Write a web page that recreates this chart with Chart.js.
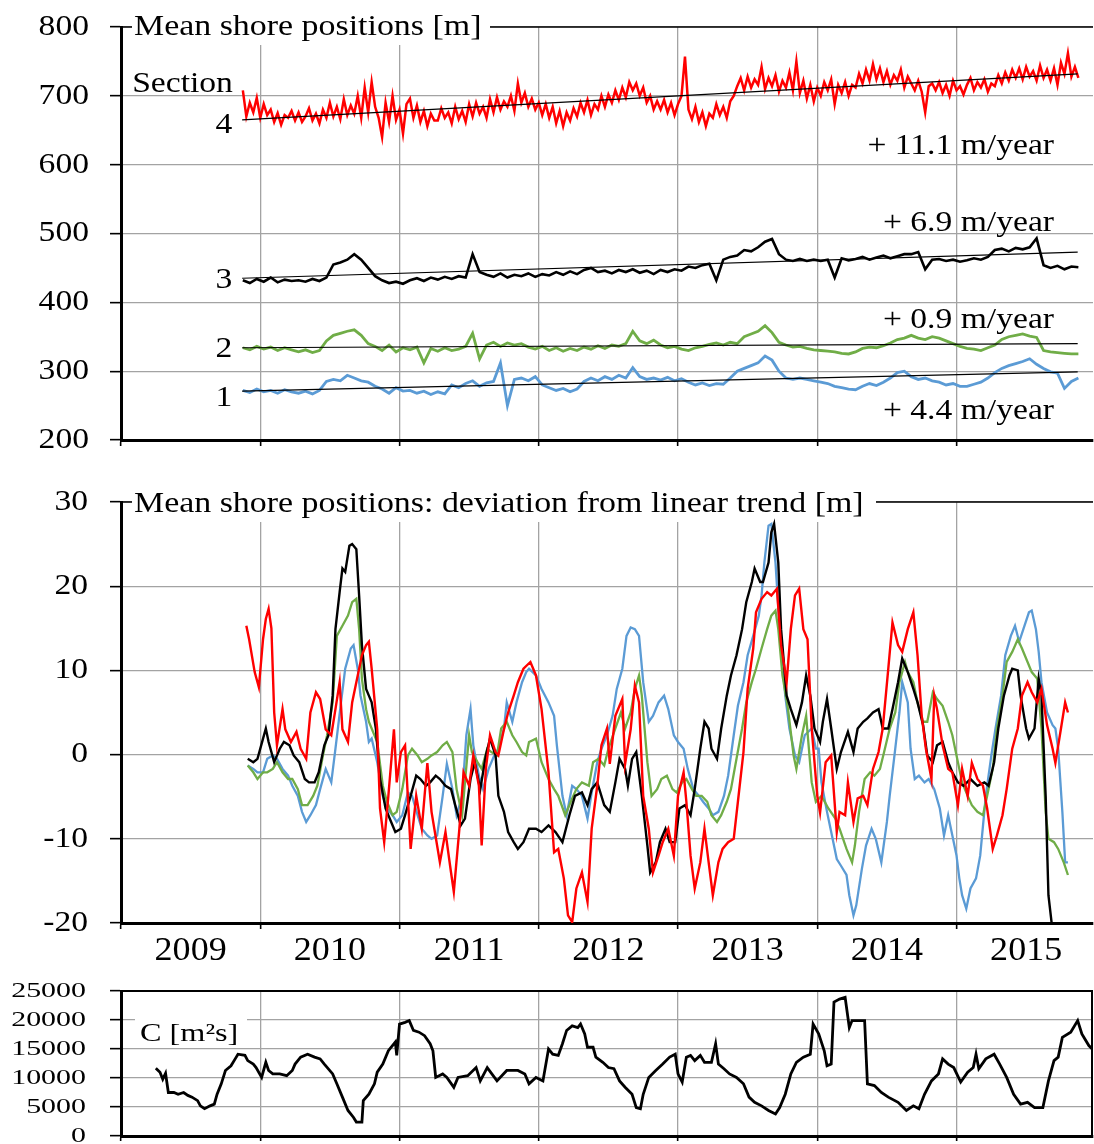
<!DOCTYPE html>
<html>
<head>
<meta charset="utf-8">
<script src="https://cdn.jsdelivr.net/npm/chart.js@4.4.1/dist/chart.umd.min.js"></script>
<style>
  html, body { margin: 0; padding: 0; background: #fff; width: 1094px; height: 1144px; overflow: hidden; }
  canvas { position: absolute; left: 0; }
</style>
</head>
<body>
<canvas id="shore" width="1094" height="470" style="top:0px"></canvas>
<canvas id="deviation" width="1094" height="495" style="top:480px"></canvas>
<canvas id="coeff" width="1094" height="169" style="top:975px"></canvas>
<script>
// shore positions, sampled from 2009.875 (red every 0.025 yr, others every 0.05 yr)
const START = 2009.875;
const RED_STEP = 0.025;
const STEP = 0.05;

const shore4 = [
  708, 670, 690, 676, 697, 668, 688, 672,
  680, 662, 675, 658, 672, 668, 678, 664,
  676, 662, 670, 682, 664, 674, 660, 680,
  668, 690, 670, 684, 666, 695, 672, 686,
  674, 700, 668, 712, 676, 720, 684, 668,
  640, 690, 662, 700, 665, 680, 645, 688,
  696, 668, 686, 662, 678, 656, 674, 664,
  664, 682, 668, 676, 660, 684, 666, 678,
  662, 688, 670, 690, 674, 684, 668, 695,
  676, 698, 680, 692, 684, 700, 678, 718,
  690, 704, 684, 696, 680, 690, 672, 688,
  668, 684, 660, 678, 656, 676, 664, 682,
  670, 690, 676, 694, 672, 688, 680, 700,
  684, 702, 690, 708, 694, 712, 698, 720,
  708, 718, 700, 712, 690, 700, 680, 692,
  680, 694, 676, 690, 672, 688, 700, 757,
  680, 666, 684, 662, 676, 656, 674, 668,
  688, 672, 684, 668, 692, 700, 714, 726,
  708, 728, 712, 724, 716, 742, 710, 726,
  714, 730, 706, 722, 712, 734, 708, 750,
  704, 722, 696, 716, 692, 712, 700, 720,
  708, 724, 688, 716, 704, 720, 700, 716,
  712, 732, 718, 738, 722, 746, 724, 740,
  720, 736, 716, 730, 722, 738, 712, 728,
  718, 708, 722, 706, 676, 714, 718, 708,
  720, 704, 716, 700, 722, 708, 714, 702,
  716, 726, 708, 720, 712, 724, 706, 718,
  714, 730, 718, 734, 722, 738, 726, 740,
  724, 742, 728, 736, 722, 744, 726, 738,
  722, 740, 716, 748, 732, 762, 728, 742,
  726
];
const shore3 = [
  432, 428, 434, 430, 436, 429, 433, 431,
  432, 430, 434, 431, 436, 455, 458, 462,
  470, 462, 450, 438, 432, 428, 430, 427,
  432, 435, 431, 436, 433, 437, 434, 438,
  436, 470, 444, 440, 437, 442, 436, 440,
  438, 442, 437, 441, 439, 444, 440, 445,
  441, 447, 450, 444, 446, 442, 447, 444,
  448, 443, 446, 441, 447, 444, 448, 446,
  452, 450, 454, 456, 432, 462, 466, 468,
  476, 474, 480, 488, 492, 470, 462, 460,
  463, 460, 462, 460, 462, 436, 464, 461,
  463, 466, 462, 465, 468, 464, 467, 470,
  470, 473, 448, 462, 463, 460, 462, 459,
  461, 464, 462, 466, 476, 478, 474, 479,
  477, 480, 493, 454, 450, 453, 448, 452,
  451
];
const shore2 = [
  334, 331, 336, 332, 335, 330, 334, 331,
  328, 331, 327, 330, 344, 352, 355, 358,
  360, 352, 340, 336, 330, 338, 328, 334,
  331, 335, 312, 333, 329, 334, 330, 332,
  336, 355, 318, 338, 342, 336, 341, 338,
  340, 335, 332, 336, 330, 334, 329, 333,
  330, 335, 332, 337, 333, 338, 336, 340,
  358, 344, 340, 345, 338, 334, 336, 332,
  330, 334, 336, 339, 341, 338, 342, 340,
  350, 354, 358, 366, 356, 342, 338, 335,
  336, 333, 331, 330, 329, 328, 326, 325,
  328, 333, 335, 334, 337, 341, 346, 348,
  352, 348, 346, 350, 348, 344, 340, 336,
  333, 332, 330, 334, 338, 346, 350, 352,
  354, 351, 349, 330, 328, 327, 326, 325,
  325
];
const shore1 = [
  272, 269, 274, 270, 272, 268, 273, 270,
  268, 271, 267, 272, 285, 288, 286, 294,
  290, 286, 284, 278, 274, 268, 276, 271,
  272, 268, 271, 266, 270, 267, 280, 276,
  282, 286, 278, 283, 285, 312, 250, 288,
  290, 286, 292, 280, 276, 272, 275, 270,
  274, 285, 290, 286, 292, 288, 294, 290,
  305, 292, 288, 290, 287, 291, 286, 289,
  284, 280, 283, 279, 282, 281, 290, 300,
  304, 308, 312, 322, 316, 300, 290, 288,
  290, 288, 286, 284, 282, 278, 276, 274,
  273, 278, 282, 279, 284, 290, 298, 300,
  292, 288, 290, 286, 284, 280, 282, 278,
  278, 281, 284, 290, 298, 304, 308, 311,
  314, 318, 310, 304, 299, 297, 275, 285,
  290
];

// linear trends [year, m]
const trend4 = [[2009.87, 665], [2015.87, 732]];
const trend3 = [[2009.87, 435], [2015.87, 473]];
const trend2 = [[2009.87, 334], [2015.87, 340]];
const trend1 = [[2009.87, 271], [2015.87, 299]];

// deviation from linear trend [year, m]
const dev4 = [
  [2009.90,15.3],[2009.92,13.7],[2009.96,9.8],[2009.99,8.0],[2010.02,13.7],[2010.04,16.1],[2010.06,17.3],[2010.08,15.0],
  [2010.10,5.0],[2010.12,1.1],[2010.16,5.4],[2010.18,3.0],[2010.22,1.5],[2010.26,2.7],[2010.29,0.7],[2010.33,-0.5],
  [2010.36,5.0],[2010.40,7.4],[2010.43,6.6],[2010.47,3.0],[2010.51,2.3],[2010.54,5.4],[2010.57,8.6],[2010.59,3.0],
  [2010.63,1.5],[2010.66,6.2],[2010.70,9.4],[2010.73,11.8],[2010.76,13.0],[2010.78,13.4],[2010.80,10.2],[2010.84,3.0],
  [2010.86,-6.4],[2010.89,-10.4],[2010.92,-4.9],[2010.96,3.0],[2010.98,-3.3],[2011.01,0.3],[2011.04,1.1],[2011.08,-11.2],
  [2011.12,-4.9],[2011.16,-8.8],[2011.20,-1.0],[2011.23,-6.8],[2011.27,-10.8],[2011.29,-12.8],[2011.33,-9.2],[2011.37,-14.0],
  [2011.39,-16.3],[2011.43,-8.8],[2011.46,-2.1],[2011.50,-3.7],[2011.53,-0.1],[2011.57,-3.7],[2011.59,-10.8],[2011.62,-1.7],
  [2011.65,2.3],[2011.69,0.3],[2011.71,-0.1],[2011.75,3.0],[2011.78,5.0],[2011.82,7.0],[2011.85,8.6],[2011.89,10.2],
  [2011.94,11.0],[2011.98,9.4],[2012.02,5.4],[2012.07,-2.1],[2012.11,-11.6],[2012.14,-11.2],[2012.18,-14.7],[2012.21,-19.1],
  [2012.24,-19.9],[2012.27,-15.9],[2012.31,-14.0],[2012.35,-17.5],[2012.38,-8.8],[2012.42,-3.7],[2012.45,1.1],[2012.49,3.1],
  [2012.51,-1.1],[2012.55,4.6],[2012.60,6.6],[2012.62,-1.1],[2012.66,3.0],[2012.69,8.2],[2012.72,6.2],[2012.75,-4.9],
  [2012.79,-8.8],[2012.82,-14.0],[2012.86,-12.0],[2012.89,-10.4],[2012.93,-8.8],[2012.97,-12.0],[2013.00,-4.9],[2013.04,-2.1],
  [2013.06,-5.6],[2013.09,-12.0],[2013.12,-15.9],[2013.16,-12.8],[2013.19,-8.8],[2013.22,-12.8],[2013.25,-16.7],[2013.29,-12.8],
  [2013.32,-11.2],[2013.36,-10.4],[2013.40,-10.0],[2013.43,-5.6],[2013.47,0.3],[2013.50,7.8],[2013.54,12.6],[2013.56,16.9],
  [2013.60,18.5],[2013.64,19.3],[2013.67,18.9],[2013.71,19.7],[2013.74,13.0],[2013.78,8.6],[2013.81,14.9],[2013.84,18.9],
  [2013.87,19.7],[2013.90,14.9],[2013.93,13.7],[2013.96,3.1],[2014.00,-4.9],[2014.02,-6.9],[2014.06,-0.9],[2014.10,-0.1],
  [2014.14,-9.2],[2014.16,-6.8],[2014.20,-7.2],[2014.22,-3.3],[2014.26,-8.0],[2014.29,-5.2],[2014.33,-4.9],[2014.36,-6.0],
  [2014.40,-1.7],[2014.44,0.3],[2014.47,3.1],[2014.51,10.2],[2014.54,15.7],[2014.58,13.0],[2014.61,12.2],[2014.65,14.9],
  [2014.69,16.9],[2014.72,11.8],[2014.75,4.6],[2014.78,0.7],[2014.82,-2.9],[2014.84,7.0],[2014.86,5.4],[2014.90,1.1],
  [2014.94,-1.7],[2014.97,-2.1],[2015.01,-6.0],[2015.04,-1.7],[2015.08,-4.9],[2015.11,-1.0],[2015.15,-2.9],[2015.19,-3.7],
  [2015.22,-6.4],[2015.26,-11.2],[2015.29,-9.6],[2015.33,-7.2],[2015.36,-4.1],[2015.40,0.7],[2015.44,3.1],[2015.47,7.0],
  [2015.51,8.6],[2015.54,7.4],[2015.58,6.2],[2015.61,7.8],[2015.65,3.5],[2015.69,0.7],[2015.71,-1.0],[2015.75,3.1],
  [2015.78,6.2],[2015.80,5.0]
];
const dev3 = [
  [2009.91,-0.5],[2009.95,-0.9],[2009.98,-0.5],[2010.02,1.9],[2010.04,3.1],[2010.06,1.5],[2010.10,-0.9],[2010.14,0.7],
  [2010.17,1.5],[2010.21,1.1],[2010.24,-0.1],[2010.28,-0.9],[2010.32,-2.9],[2010.35,-3.3],[2010.39,-3.3],[2010.42,-2.1],
  [2010.46,1.1],[2010.49,2.3],[2010.52,7.0],[2010.54,14.9],[2010.57,19.3],[2010.59,22.1],[2010.61,21.7],[2010.64,24.8],
  [2010.66,25.0],[2010.69,24.4],[2010.71,18.9],[2010.73,13.0],[2010.76,7.8],[2010.78,7.0],[2010.80,6.2],[2010.83,3.1],
  [2010.86,-2.9],[2010.90,-6.4],[2010.94,-8.0],[2010.97,-9.2],[2011.01,-8.8],[2011.04,-7.2],[2011.08,-4.9],[2011.12,-2.5],
  [2011.15,-2.9],[2011.19,-3.7],[2011.22,-3.3],[2011.26,-2.5],[2011.29,-2.9],[2011.33,-3.7],[2011.37,-4.1],[2011.40,-6.0],
  [2011.44,-8.4],[2011.47,-7.6],[2011.51,-2.9],[2011.54,-0.9],[2011.58,-4.1],[2011.62,-0.1],[2011.65,1.9],[2011.69,-0.1],
  [2011.71,-4.9],[2011.75,-6.8],[2011.78,-9.2],[2011.82,-10.4],[2011.85,-11.2],[2011.89,-10.4],[2011.93,-8.8],[2011.98,-8.8],
  [2012.02,-9.2],[2012.07,-8.4],[2012.12,-9.2],[2012.17,-10.4],[2012.22,-7.2],[2012.26,-4.9],[2012.31,-4.5],[2012.35,-6.0],
  [2012.38,-4.1],[2012.42,-3.3],[2012.47,-6.0],[2012.51,-6.8],[2012.55,-3.3],[2012.58,-0.5],[2012.62,-1.7],[2012.64,-3.7],
  [2012.67,-0.5],[2012.70,0.3],[2012.74,-4.9],[2012.78,-10.8],[2012.80,-14.0],[2012.84,-12.8],[2012.87,-10.4],[2012.91,-8.8],
  [2012.94,-10.4],[2012.98,-10.4],[2013.01,-6.4],[2013.05,-6.0],[2013.09,-7.2],[2013.12,-4.1],[2013.16,0.7],[2013.19,3.9],
  [2013.22,3.1],[2013.24,0.7],[2013.28,-0.5],[2013.31,3.1],[2013.35,7.0],[2013.38,9.4],[2013.42,11.8],[2013.46,14.9],
  [2013.49,18.1],[2013.53,20.5],[2013.55,22.1],[2013.59,20.5],[2013.61,20.5],[2013.65,22.8],[2013.67,26.4],[2013.69,27.4],
  [2013.72,22.8],[2013.74,14.9],[2013.78,7.0],[2013.81,5.4],[2013.85,3.5],[2013.89,6.2],[2013.92,9.4],[2013.95,7.0],
  [2013.98,3.1],[2014.02,1.5],[2014.04,3.9],[2014.07,6.6],[2014.10,3.1],[2014.14,-1.7],[2014.17,0.3],[2014.22,2.7],
  [2014.26,0.3],[2014.29,3.1],[2014.33,3.9],[2014.36,4.3],[2014.40,5.0],[2014.44,5.4],[2014.47,3.1],[2014.51,3.1],
  [2014.54,5.4],[2014.58,8.6],[2014.61,11.4],[2014.65,9.8],[2014.69,7.8],[2014.72,6.2],[2014.76,3.5],[2014.79,-0.1],
  [2014.83,-0.9],[2014.86,1.1],[2014.90,1.5],[2014.94,-0.9],[2014.97,-2.1],[2015.01,-3.3],[2015.05,-3.7],[2015.10,-2.9],
  [2015.15,-3.7],[2015.20,-3.3],[2015.23,-3.7],[2015.27,-0.9],[2015.30,3.1],[2015.34,7.0],[2015.38,9.4],[2015.40,10.2],
  [2015.44,10.0],[2015.46,7.0],[2015.50,3.1],[2015.52,1.9],[2015.56,3.1],[2015.59,9.0],[2015.61,7.0],[2015.64,-4.9],
  [2015.66,-16.7],[2015.69,-21.0]
];
const dev2 = [
  [2009.91,-1.3],[2009.95,-2.1],[2009.98,-2.9],[2010.02,-2.1],[2010.05,-2.1],[2010.09,-1.7],[2010.12,-0.9],[2010.16,-2.1],
  [2010.20,-2.9],[2010.23,-2.9],[2010.27,-4.1],[2010.30,-6.0],[2010.34,-6.0],[2010.38,-4.9],[2010.41,-3.7],[2010.45,-0.1],
  [2010.48,2.3],[2010.52,6.2],[2010.55,14.1],[2010.59,15.3],[2010.63,16.5],[2010.66,18.1],[2010.69,18.5],[2010.71,14.9],
  [2010.73,9.0],[2010.76,5.4],[2010.78,3.9],[2010.80,3.1],[2010.84,1.5],[2010.88,-3.7],[2010.91,-5.6],[2010.95,-7.2],
  [2010.98,-6.8],[2011.02,-4.1],[2011.06,-0.1],[2011.09,0.7],[2011.13,-0.1],[2011.16,-0.9],[2011.20,-0.5],[2011.23,-0.1],
  [2011.27,0.3],[2011.31,1.1],[2011.34,1.5],[2011.38,0.3],[2011.41,-4.1],[2011.45,-7.2],[2011.47,-3.3],[2011.50,2.3],
  [2011.52,0.3],[2011.56,-0.9],[2011.59,-1.7],[2011.63,0.7],[2011.66,0.3],[2011.70,-0.1],[2011.73,3.1],[2011.77,3.9],
  [2011.81,2.3],[2011.84,1.5],[2011.88,0.3],[2011.91,-0.1],[2011.93,1.5],[2011.98,1.9],[2012.02,-0.9],[2012.07,-2.9],
  [2012.11,-4.1],[2012.14,-4.9],[2012.19,-7.2],[2012.24,-5.2],[2012.27,-4.1],[2012.31,-3.3],[2012.36,-3.7],[2012.39,-0.9],
  [2012.43,-0.5],[2012.47,-1.3],[2012.50,0.7],[2012.55,3.1],[2012.59,5.0],[2012.62,3.1],[2012.66,5.0],[2012.69,7.8],
  [2012.72,9.4],[2012.74,7.0],[2012.78,-0.9],[2012.81,-4.9],[2012.85,-4.1],[2012.88,-2.9],[2012.92,-2.5],[2012.96,-4.1],
  [2012.99,-4.5],[2013.03,-3.3],[2013.06,-2.9],[2013.10,-4.1],[2013.13,-4.9],[2013.17,-4.9],[2013.21,-5.6],[2013.24,-7.2],
  [2013.28,-8.0],[2013.31,-7.2],[2013.35,-5.6],[2013.38,-4.1],[2013.42,-0.5],[2013.46,3.1],[2013.49,6.2],[2013.53,8.6],
  [2013.56,10.2],[2013.60,12.6],[2013.64,14.9],[2013.67,16.5],[2013.70,17.1],[2013.72,14.9],[2013.75,9.4],[2013.79,5.4],
  [2013.83,-0.1],[2013.85,-1.7],[2013.89,2.3],[2013.92,4.6],[2013.96,-3.3],[2013.99,-5.6],[2014.03,-4.9],[2014.08,-6.4],
  [2014.13,-7.6],[2014.16,-8.8],[2014.21,-11.2],[2014.25,-12.8],[2014.27,-10.8],[2014.30,-6.8],[2014.34,-2.9],[2014.38,-2.1],
  [2014.41,-2.5],[2014.45,-1.7],[2014.48,0.3],[2014.52,3.1],[2014.56,5.0],[2014.59,8.6],[2014.63,11.0],[2014.65,9.8],
  [2014.69,8.6],[2014.72,6.2],[2014.76,3.9],[2014.79,3.9],[2014.83,7.4],[2014.86,6.6],[2014.90,5.8],[2014.94,3.9],
  [2014.97,2.3],[2015.01,-0.9],[2015.04,-3.3],[2015.08,-4.9],[2015.11,-6.0],[2015.15,-6.8],[2015.19,-7.2],[2015.22,-4.9],
  [2015.26,-1.7],[2015.29,3.1],[2015.33,7.0],[2015.36,11.0],[2015.40,12.2],[2015.44,13.7],[2015.47,12.6],[2015.51,11.0],
  [2015.54,9.8],[2015.58,9.0],[2015.61,3.1],[2015.64,-6.8],[2015.66,-10.0],[2015.70,-10.4],[2015.73,-11.2],[2015.77,-12.8],
  [2015.80,-14.3]
];
const dev1 = [
  [2009.91,-1.3],[2009.95,-1.7],[2009.98,-2.1],[2010.02,-2.1],[2010.05,-0.5],[2010.09,-0.1],[2010.12,-0.5],[2010.16,-1.7],
  [2010.20,-2.5],[2010.23,-3.7],[2010.27,-4.9],[2010.30,-6.8],[2010.33,-8.0],[2010.36,-7.2],[2010.40,-6.0],[2010.43,-4.1],
  [2010.47,-1.7],[2010.51,-3.3],[2010.54,0.7],[2010.58,6.2],[2010.61,10.2],[2010.65,12.6],[2010.67,13.0],[2010.70,10.2],
  [2010.72,7.0],[2010.76,3.9],[2010.78,1.5],[2010.80,1.9],[2010.84,-0.9],[2010.88,-4.9],[2010.91,-6.4],[2010.95,-7.2],
  [2010.98,-8.0],[2011.02,-7.2],[2011.06,-4.5],[2011.09,-4.9],[2011.13,-7.2],[2011.16,-8.8],[2011.20,-9.6],[2011.23,-10.0],
  [2011.27,-9.6],[2011.31,-4.9],[2011.34,-1.1],[2011.38,-4.1],[2011.41,-7.2],[2011.45,-4.9],[2011.48,2.3],[2011.51,5.4],
  [2011.53,1.1],[2011.57,-2.5],[2011.60,-4.1],[2011.64,-1.7],[2011.68,-0.1],[2011.71,0.7],[2011.75,3.1],[2011.77,6.2],
  [2011.81,3.9],[2011.84,6.2],[2011.88,8.6],[2011.91,9.8],[2011.93,10.2],[2011.98,9.4],[2012.02,7.8],[2012.07,6.2],
  [2012.11,4.6],[2012.13,1.1],[2012.17,-4.9],[2012.20,-7.2],[2012.24,-3.7],[2012.27,-4.1],[2012.31,-4.9],[2012.35,-7.6],
  [2012.38,-4.5],[2012.42,-0.9],[2012.45,0.7],[2012.49,2.3],[2012.53,4.6],[2012.56,7.8],[2012.60,10.2],[2012.63,14.1],
  [2012.66,15.1],[2012.69,14.9],[2012.72,14.1],[2012.75,8.6],[2012.79,3.9],[2012.82,4.6],[2012.86,6.2],[2012.90,7.0],
  [2012.93,5.4],[2012.97,2.3],[2013.00,1.5],[2013.04,0.7],[2013.07,-1.7],[2013.11,-4.1],[2013.15,-4.9],[2013.18,-5.6],
  [2013.22,-6.4],[2013.25,-7.2],[2013.29,-6.8],[2013.33,-4.9],[2013.36,-2.5],[2013.40,2.3],[2013.43,5.8],[2013.47,8.6],
  [2013.50,11.8],[2013.54,14.1],[2013.58,16.5],[2013.60,18.9],[2013.62,22.8],[2013.65,27.2],[2013.67,27.4],[2013.70,22.8],
  [2013.73,14.9],[2013.77,7.0],[2013.80,3.1],[2013.84,-0.1],[2013.87,-0.9],[2013.91,2.3],[2013.96,3.1],[2013.99,0.7],
  [2014.01,0.7],[2014.03,-3.3],[2014.07,-6.8],[2014.10,-9.2],[2014.14,-12.4],[2014.17,-13.2],[2014.21,-14.3],[2014.23,-16.7],
  [2014.26,-19.1],[2014.28,-17.9],[2014.32,-13.6],[2014.35,-10.8],[2014.39,-8.8],[2014.42,-10.0],[2014.46,-12.8],[2014.50,-8.0],
  [2014.52,-4.9],[2014.56,0.7],[2014.59,5.0],[2014.61,8.6],[2014.65,6.2],[2014.67,0.7],[2014.70,-2.9],[2014.73,-2.5],
  [2014.77,-3.3],[2014.80,-2.9],[2014.84,-4.1],[2014.88,-6.4],[2014.91,-9.6],[2014.94,-7.2],[2014.96,-8.8],[2015.00,-12.0],
  [2015.02,-14.7],[2015.04,-16.7],[2015.07,-18.3],[2015.10,-15.9],[2015.14,-14.7],[2015.17,-12.0],[2015.21,-4.9],[2015.25,-0.1],
  [2015.28,3.1],[2015.32,7.0],[2015.35,11.8],[2015.39,14.1],[2015.42,15.3],[2015.45,13.4],[2015.48,14.9],[2015.52,16.9],
  [2015.54,17.1],[2015.57,14.9],[2015.59,12.2],[2015.61,8.6],[2015.65,5.0],[2015.69,3.5],[2015.71,3.1],[2015.73,0.7],
  [2015.76,-6.8],[2015.78,-12.8],[2015.80,-12.8]
];

// C [m2s] [year, value]
const coeffC = [
  [2009.25,11700],[2009.28,11000],[2009.30,9800],[2009.32,10800],[2009.34,7500],[2009.38,7500],[2009.41,7200],[2009.45,7500],
  [2009.48,7000],[2009.51,6700],[2009.55,6100],[2009.57,5200],[2009.60,4700],[2009.64,5200],[2009.67,5500],[2009.69,7200],
  [2009.72,9000],[2009.75,11300],[2009.79,12100],[2009.82,13300],[2009.84,14100],[2009.89,13900],[2009.91,13000],[2009.95,12400],
  [2009.97,11800],[2010.01,10100],[2010.04,12700],[2010.06,11300],[2010.09,10700],[2010.14,10700],[2010.19,10400],[2010.23,11300],
  [2010.25,12400],[2010.29,13600],[2010.34,14100],[2010.39,13600],[2010.43,13300],[2010.46,12400],[2010.52,10700],[2010.55,9000],
  [2010.59,6700],[2010.63,4400],[2010.67,3200],[2010.69,2400],[2010.73,2400],[2010.74,6100],[2010.78,7200],[2010.82,9000],
  [2010.84,11000],[2010.88,12400],[2010.92,14700],[2010.97,16200],[2010.98,13900],[2011.00,19300],[2011.04,19600],[2011.07,19900],
  [2011.10,18200],[2011.14,17900],[2011.18,17300],[2011.22,15900],[2011.24,14700],[2011.26,10100],[2011.31,10700],[2011.34,10100],
  [2011.39,8400],[2011.42,10100],[2011.49,10400],[2011.55,11800],[2011.58,9500],[2011.63,11800],[2011.70,9500],[2011.77,11300],
  [2011.85,11300],[2011.90,10700],[2011.93,9000],[2011.98,10100],[2012.03,9500],[2012.07,15000],[2012.10,14100],[2012.14,13900],
  [2012.17,15900],[2012.20,18200],[2012.24,19000],[2012.28,18700],[2012.30,19300],[2012.33,17600],[2012.35,15300],[2012.39,15300],
  [2012.41,13600],[2012.46,12700],[2012.50,11800],[2012.54,11600],[2012.58,9500],[2012.62,8400],[2012.67,7200],[2012.70,4900],
  [2012.73,4700],[2012.75,7200],[2012.79,10100],[2012.84,11300],[2012.89,12400],[2012.94,13600],[2012.98,14100],[2013.00,10700],
  [2013.03,9300],[2013.06,13600],[2013.09,13900],[2013.12,13000],[2013.16,13900],[2013.19,12700],[2013.24,12700],[2013.27,15900],
  [2013.29,12400],[2013.33,11600],[2013.37,10700],[2013.42,10100],[2013.47,9000],[2013.51,6700],[2013.55,5800],[2013.60,5200],
  [2013.65,4400],[2013.70,3800],[2013.73,4900],[2013.77,7200],[2013.81,10700],[2013.85,12700],[2013.90,13600],[2013.95,14100],
  [2013.97,19300],[2014.01,17600],[2014.05,14700],[2014.07,12100],[2014.10,12400],[2014.12,23100],[2014.16,23600],[2014.20,23900],
  [2014.23,18700],[2014.25,19900],[2014.34,19900],[2014.36,9000],[2014.41,8700],[2014.46,7500],[2014.51,6700],[2014.58,5800],
  [2014.64,4400],[2014.69,5200],[2014.73,4700],[2014.77,7200],[2014.82,9500],[2014.87,10700],[2014.90,13300],[2014.94,12400],
  [2014.98,11800],[2015.03,9300],[2015.08,11000],[2015.12,11800],[2015.14,14100],[2015.16,11600],[2015.21,13300],[2015.27,14100],
  [2015.31,12400],[2015.36,10100],[2015.41,7200],[2015.46,5500],[2015.51,5800],[2015.56,4900],[2015.62,4900],[2015.66,9500],
  [2015.70,13000],[2015.73,13600],[2015.76,17000],[2015.82,17900],[2015.87,19900],[2015.90,17600],[2015.95,15600],[2016.00,14400]
];

const yearTicks = [2009, 2010, 2011, 2012, 2013, 2014, 2015];
const yearLabels = ['2009', '2010', '2011', '2012', '2013', '2014', '2015'];

// text anchors in data units
const sectionWord = { text: 'Section', x: 2009.08, y: 705 };
const sectionLabels = [
  { text: '4', x: 2009.80, y: 646 },
  { text: '3', x: 2009.80, y: 421 },
  { text: '2', x: 2009.80, y: 320 },
  { text: '1', x: 2009.80, y: 249 }
];
const rateLabels = [
  { text: '+ 11.1 m/year', x: 2015.70, y: 615 },
  { text: '+ 6.9 m/year', x: 2015.70, y: 504 },
  { text: '+ 0.9 m/year', x: 2015.70, y: 363 },
  { text: '+ 4.4 m/year', x: 2015.70, y: 230 }
];

const RED = '#ff0000', BLACK = '#000000', GREEN = '#70ad47', BLUE = '#5b9bd5';
const FONT = '"Liberation Serif", "Times New Roman", serif';
const GRID = '#a3a3a3';

const series = (vals, step) => vals.map((v, i) => ({ x: START + i * step, y: v }));
const pairs = arr => arr.map(([x, y]) => ({ x, y }));

function lineDs(data, color, width) {
  return { data, borderColor: color, borderWidth: width, pointRadius: 0, fill: false, tension: 0 };
}

// Times-like text, stretched sideways like the scanned figure
function stretchText(ctx, text, x, y, size, sx, align, base) {
  ctx.save();
  ctx.font = size + 'px ' + FONT;
  ctx.fillStyle = '#000';
  ctx.textAlign = align;
  ctx.textBaseline = base || 'alphabetic';
  ctx.translate(x, y);
  ctx.scale(sx, 1);
  ctx.fillText(text, 0, 0);
  ctx.restore();
}

function tickLabels(chart, right, size, sx) {
  const s = chart.scales.y;
  s.ticks.forEach(t => stretchText(chart.ctx, String(t.value), right, s.getPixelForValue(t.value), size, sx, 'right', 'middle'));
}

// black top frame line, white box behind the panel title, title text
function panelHeader(chart, text, boxRight, boxBottom, dy) {
  const { ctx, chartArea: a } = chart;
  ctx.save();
  ctx.strokeStyle = '#000';
  ctx.lineWidth = 1.6;
  ctx.beginPath();
  ctx.moveTo(a.left, a.top);
  ctx.lineTo(a.right, a.top);
  ctx.stroke();
  ctx.fillStyle = '#fff';
  ctx.fillRect(a.left + 11, 0, boxRight - a.left - 11, boxBottom);
  ctx.restore();
  stretchText(ctx, text, a.left + 13, a.top + dy, 30, 1.13, 'left');
}

function xScale(height, tickLen) {
  return {
    type: 'linear', position: 'bottom', min: 2009, max: 2015.98,
    afterBuildTicks: s => { s.ticks = yearTicks.map(v => ({ value: v })); },
    afterFit: s => { s.height = height; },
    ticks: { display: false },
    grid: { color: GRID, lineWidth: 1.3, tickLength: tickLen, tickColor: '#000', tickWidth: 1.6 },
    border: { color: '#000', width: 3 }
  };
}

function yScale(min, max, step) {
  return {
    type: 'linear', position: 'left', min, max,
    ticks: { display: false, stepSize: step },
    afterFit: s => { s.width = 121; },
    grid: { color: GRID, lineWidth: 1.3, tickLength: 11, tickColor: '#000', tickWidth: 1.6 },
    border: { color: '#000', width: 3 }
  };
}

function baseOptions(padTop, xHeight, xTick, yMin, yMax, yStep) {
  return {
    responsive: false, animation: false, devicePixelRatio: 1,
    layout: { autoPadding: false, padding: { top: padTop, right: 1, bottom: 0, left: 0 } },
    plugins: { legend: { display: false }, tooltip: { enabled: false } },
    scales: { x: xScale(xHeight, xTick), y: yScale(yMin, yMax, yStep) }
  };
}

// top: mean shore positions
new Chart(document.getElementById('shore'), {
  type: 'line',
  data: {
    datasets: [
      lineDs(pairs(trend4), BLACK, 1.2),
      lineDs(pairs(trend3), BLACK, 1.2),
      lineDs(pairs(trend2), BLACK, 1.2),
      lineDs(pairs(trend1), BLACK, 1.2),
      lineDs(series(shore4, RED_STEP), RED, 2.5),
      lineDs(series(shore3, STEP), BLACK, 2.6),
      lineDs(series(shore2, STEP), GREEN, 2.8),
      lineDs(series(shore1, STEP), BLUE, 2.8)
    ]
  },
  options: baseOptions(27, 30, 6, 200, 800, 100),
  plugins: [{
    id: 'shoreText',
    beforeDatasetsDraw(chart) { panelHeader(chart, 'Mean shore positions [m]', 490, 45, 8); },
    afterDraw(chart) {
      const { ctx, scales: { x, y } } = chart;
      tickLabels(chart, 89, 30, 1.12);
      stretchText(ctx, sectionWord.text, x.getPixelForValue(sectionWord.x), y.getPixelForValue(sectionWord.y), 30, 1.12, 'left');
      sectionLabels.forEach(l => stretchText(ctx, l.text, x.getPixelForValue(l.x), y.getPixelForValue(l.y), 30, 1.12, 'right'));
      rateLabels.forEach(l => stretchText(ctx, l.text, x.getPixelForValue(l.x), y.getPixelForValue(l.y), 30, 1.12, 'right'));
    }
  }]
});

// middle: deviation from linear trend
new Chart(document.getElementById('deviation'), {
  type: 'line',
  data: {
    datasets: [
      lineDs(pairs(dev4), RED, 2.4),
      lineDs(pairs(dev3), BLACK, 2.4),
      lineDs(pairs(dev2), GREEN, 2.3),
      lineDs(pairs(dev1), BLUE, 2.3)
    ]
  },
  options: baseOptions(22, 52, 6, -20, 30, 10),
  plugins: [{
    id: 'devText',
    beforeDatasetsDraw(chart) { panelHeader(chart, 'Mean shore positions: deviation from linear trend [m]', 876, 42, 10); },
    afterDraw(chart) {
      const x = chart.scales.x;
      tickLabels(chart, 88, 30, 1.12);
      yearLabels.forEach((t, i) => stretchText(chart.ctx, t, x.getPixelForValue(yearTicks[i] + 0.5), 471.5, 34, 1.06, 'center', 'middle'));
    }
  }]
});

// bottom: C
new Chart(document.getElementById('coeff'), {
  type: 'line',
  data: { datasets: [lineDs(pairs(coeffC), BLACK, 2.8)] },
  options: baseOptions(16, 8, 5, 0, 25000, 5000),
  plugins: [{
    id: 'coeffText',
    beforeDatasetsDraw(chart) {
      const { ctx, chartArea: a } = chart;
      ctx.save();
      ctx.fillStyle = '#fff';
      ctx.fillRect(a.left + 14, 28, 112, 44);
      ctx.restore();
      stretchText(ctx, 'C [m²s]', a.left + 19, 66, 25, 1.29, 'left');
    },
    afterDraw(chart) {
      const { ctx, chartArea: a } = chart;
      ctx.save();
      ctx.strokeStyle = '#000';
      ctx.lineWidth = 2;
      ctx.beginPath();
      ctx.moveTo(a.left, a.top);
      ctx.lineTo(a.right - 1, a.top);
      ctx.lineTo(a.right - 1, a.bottom);
      ctx.stroke();
      ctx.restore();
      tickLabels(chart, 86, 22, 1.36);
    }
  }]
});
</script>
</body>
</html>
